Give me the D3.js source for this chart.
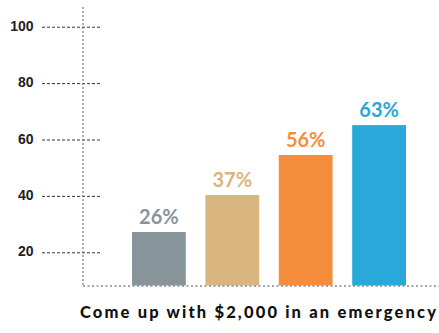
<!DOCTYPE html>
<html>
<head>
<meta charset="utf-8">
<script src="https://cdn.jsdelivr.net/npm/d3@7"></script>
<style>
  body { margin: 0; background: #fff; }
  svg { display: block; }
</style>
</head>
<body>
<svg width="439" height="333"></svg>
<script>
var svg = d3.select('svg');

// Chart data (bar heights, labels as printed)
var categories = ['Group 1', 'Group 2', 'Group 3', 'Group 4'];
var barValues = [27.2, 40.3, 54.5, 65.1];
var barLabels = ['26%', '37%', '56%', '63%'];
var barColors = ['#87959a', '#d9b57f', '#f68d3d', '#29a8d9'];
var tickValues = [20, 40, 60, 80, 100];
var title = 'Come up with $2,000 in an emergency';

// Layout
var axisX = 83;
var baseY = 285.5;
var topY = 7;

var yScale = d3.scaleLinear().domain([0, 100]).range([308.7, 26.7]);
var xScale = d3.scaleBand()
    .domain(categories)
    .range([132, 406])
    .paddingInner(0.267)
    .paddingOuter(0);

// Tick lines + labels
var yAxis = d3.axisLeft(yScale)
    .tickValues(tickValues)
    .tickSize(0)
    .tickPadding(0);

var axisG = svg.append('g')
    .attr('transform', 'translate(' + [33.5, 0] + ')')
    .call(yAxis);
axisG.select('.domain').remove();
axisG.selectAll('.tick text')
    .attr('x', 0)
    .attr('dy', '0.25em')
    .style('font-family', '"Liberation Sans", Arial, sans-serif')
    .style('font-weight', 'bold')
    .style('font-size', '14px')
    .attr('fill', '#222');
axisG.selectAll('.tick').append('line')
    .attr('x1', 8.5).attr('x2', 68.5)
    .attr('stroke', '#333')
    .attr('stroke-width', 1)
    .attr('stroke-dasharray', '3,2');

// Vertical dotted axis
svg.append('line')
    .attr('x1', axisX).attr('x2', axisX)
    .attr('y1', topY).attr('y2', baseY)
    .attr('stroke', '#777')
    .attr('stroke-width', 1.2)
    .attr('stroke-dasharray', '2,2');

// Bars
svg.selectAll('.bar')
    .data(categories)
    .enter()
    .append('rect')
    .attr('class', 'bar')
    .attr('x', function(d) { return xScale(d); })
    .attr('y', function(d, i) { return yScale(barValues[i]); })
    .attr('width', xScale.bandwidth())
    .attr('height', function(d, i) { return baseY - yScale(barValues[i]); })
    .attr('fill', function(d, i) { return barColors[i]; });

// Bottom dotted line (drawn over bar feet)
svg.append('line')
    .attr('x1', axisX).attr('x2', 439)
    .attr('y1', baseY + 0.5).attr('y2', baseY + 0.5)
    .attr('stroke', '#888')
    .attr('stroke-width', 1.5)
    .attr('stroke-dasharray', '2,2.5');

// Value labels
svg.selectAll('.val')
    .data(categories)
    .enter()
    .append('text')
    .attr('class', 'val')
    .attr('x', function(d) { return xScale(d) + xScale.bandwidth() / 2; })
    .attr('y', function(d, i) { return yScale(barValues[i]) - 8; })
    .attr('text-anchor', 'middle')
    .style('font-family', 'Lato, sans-serif')
    .style('font-weight', 'bold')
    .style('font-size', '20px')
    .attr('fill', function(d, i) { return barColors[i]; })
    .text(function(d, i) { return barLabels[i]; });

// Title, spread to the same width as the original
svg.append('text')
    .attr('x', 80)
    .attr('y', 318)
    .attr('textLength', 356)
    .attr('lengthAdjust', 'spacing')
    .style('font-family', 'Lato, sans-serif')
    .style('font-weight', 900)
    .style('font-size', '16.5px')
    .attr('fill', '#111')
    .text(title);
</script>
</body>
</html>
